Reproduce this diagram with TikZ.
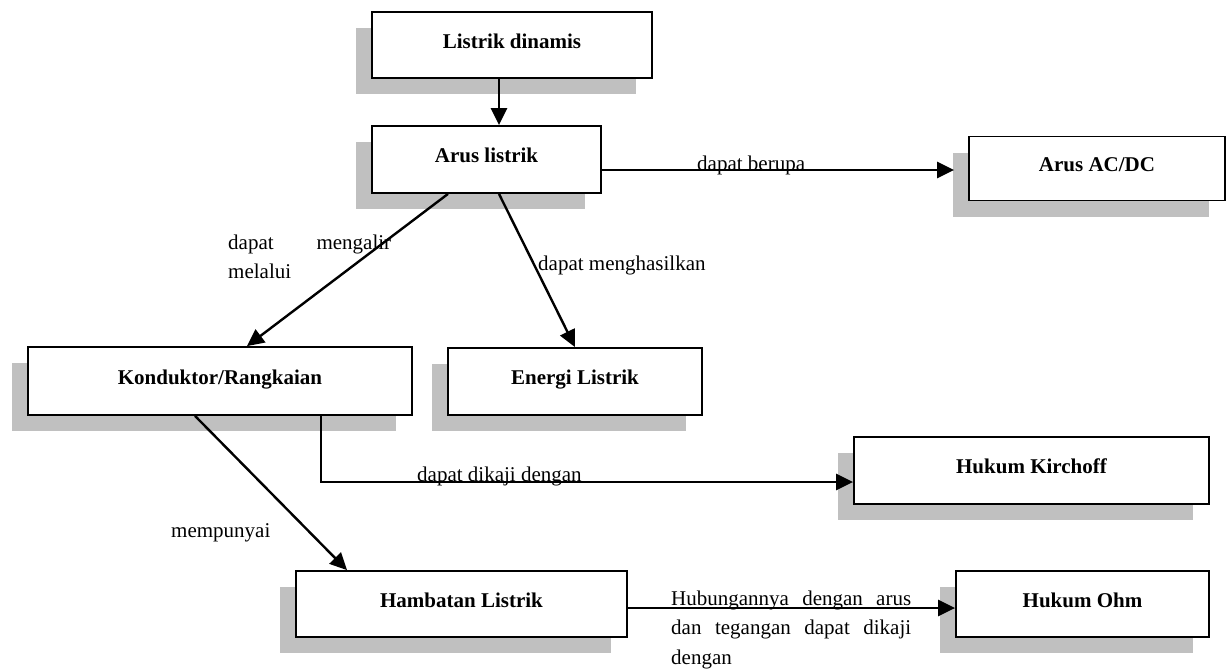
\documentclass[tikz,border=0pt]{standalone}
\usepackage{fontspec}
\setmainfont{Liberation Serif}
\usetikzlibrary{arrows.meta,shadows,calc}
\definecolor{shgray}{RGB}{192,192,192}
\begin{document}
\begin{tikzpicture}[x=1pt,y=-1pt,
  conceptbox/.style={draw=black,line width=1.8pt,fill=white,inner sep=0pt,
    font=\fontsize{21}{25}\selectfont\bfseries,text height=14pt,text depth=8pt,
    drop shadow={shadow xshift=-16pt,shadow yshift=-16pt,fill=shgray,opacity=1,draw=none}},
  arr/.style={line width=2.4pt,-{Triangle[length=17pt,width=16pt]}},
  lbl/.style={inner sep=0pt,font=\fontsize{21}{29.5}\selectfont},
]
\useasboundingbox (0,0) rectangle (1227,670);
% boxes
\node[conceptbox,minimum width=280pt,minimum height=66pt] (ld) at (512,45) {Listrik dinamis};
\node[conceptbox,minimum width=229pt,minimum height=67pt] (al) at (486.5,159.5) {Arus listrik};
\node[conceptbox,minimum width=256pt,minimum height=64pt] (ac) at (1097,168.5) {Arus AC/DC};
\node[conceptbox,minimum width=384pt,minimum height=68pt] (ko) at (220,381) {Konduktor/Rangkaian};
\node[conceptbox,minimum width=254pt,minimum height=67pt] (en) at (575,381.5) {Energi Listrik};
\node[conceptbox,minimum width=355pt,minimum height=67pt] (hk) at (1031.5,470.5) {Hukum Kirchoff};
\node[conceptbox,minimum width=331pt,minimum height=66pt] (hl) at (461.5,604) {Hambatan Listrik};
\node[conceptbox,minimum width=253pt,minimum height=66pt] (ho) at (1082.5,604) {Hukum Ohm};
% connectors
\draw[arr] ([xshift=-13pt]ld.south) -- ([xshift=12.5pt]al.north);
\coordinate (a1) at ([yshift=-10.5pt]al.east);
\coordinate (acin) at ($(ac.west)+(-14,0)$);
\draw[arr] (a1) -- (a1 -| acin);
\draw[arr] ([xshift=-38.5pt]al.south) -- ([xshift=27pt]ko.north);
\draw[arr] ([xshift=12.5pt]al.south) -- (en.north);
\draw[arr] ([xshift=101pt]ko.south) |- ([yshift=-11.5pt]hk.west);
\draw[arr] ([xshift=-25pt]ko.south) -- ([xshift=-114.5pt]hl.north);
\draw[arr] ([yshift=-4pt]hl.east) -- ([yshift=-4pt]ho.west);
% labels
\node[lbl,anchor=base west] (l1) at (697,170) {dapat berupa};
\node[lbl,anchor=north west,text width=163pt,align=left] (l2) at (228,234.7) {dapat\hfill mengalir\\melalui};
\node[lbl,anchor=base west] (l3) at (538,270) {dapat menghasilkan};
\node[lbl,anchor=base west] (l4) at (417,481) {dapat dikaji dengan};
\node[lbl,anchor=base west] (l5) at (171,537) {mempunyai};
\node[lbl,anchor=north west,text width=240pt,align=left] (l6) at (671,590.7) {Hubungannya\hfill dengan\hfill arus\\dan\hfill tegangan\hfill dapat\hfill dikaji\\dengan};
\end{tikzpicture}
\end{document}
